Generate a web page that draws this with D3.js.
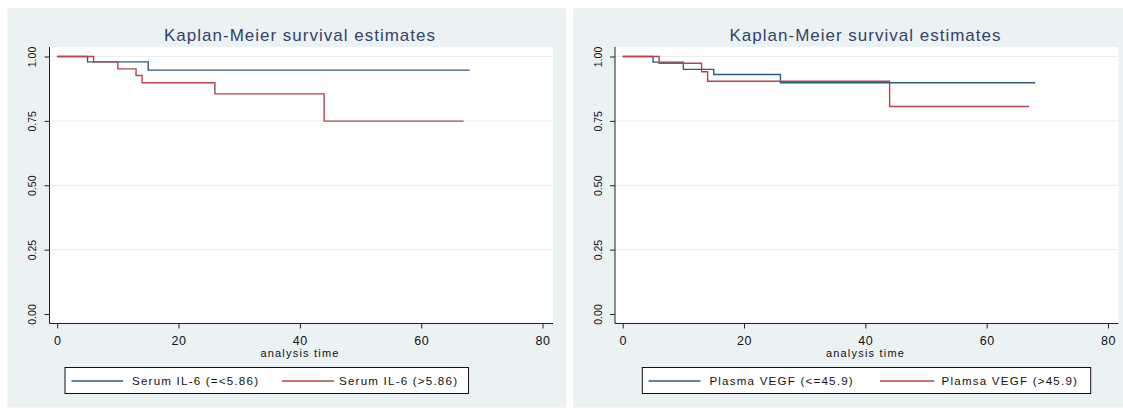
<!DOCTYPE html>
<html>
<head>
<meta charset="utf-8">
<script src="https://cdn.jsdelivr.net/npm/d3@7"></script>
<style>
  body { margin: 0; background: #fff; }
  svg { display: block; }
  text { font-family: "Liberation Sans", Arial, sans-serif; }
</style>
</head>
<body>
<div id="chart"></div>
<script>
// tick values shared by both panels
const xTicks = [0, 20, 40, 60, 80];
const yTicks = [0, 0.25, 0.5, 0.75, 1];
const titleText = "Kaplan-Meier survival estimates";
const xTitle = "analysis time";

// serum IL-6 panel (time, survival at each step)
const il6Labels = ["Serum IL-6 (=<5.86)", "Serum IL-6 (>5.86)"];
const il6LowTime = [0, 5, 15, 68];
const il6LowSurv = [1, 0.979, 0.947, 0.947];
const il6HighTime = [0, 6, 10, 13, 14, 26, 44, 67];
const il6HighSurv = [1, 0.979, 0.952, 0.926, 0.898, 0.855, 0.749, 0.749];

// plasma VEGF panel
const vegfLabels = ["Plasma VEGF (<=45.9)", "Plamsa VEGF (>45.9)"];
const vegfLowTime = [0, 5, 10, 15, 26, 68];
const vegfLowSurv = [1, 0.978, 0.950, 0.930, 0.898, 0.898];
const vegfHighTime = [0, 6, 13, 14, 44, 67];
const vegfHighSurv = [1, 0.974, 0.941, 0.904, 0.806, 0.806];

const colors = ["#2b5a86", "#b0474f"];

const svg = d3.select("#chart")
  .append("svg")
  .attr("width", 1123)
  .attr("height", 409);

function drawPanel(left, series, labels, leg) {
  const g = svg.append("g").attr("transform", `translate(${left},0)`);

  // graph region + plot region
  g.append("rect")
    .attr("x", 0).attr("y", 8)
    .attr("width", 558.5).attr("height", 399.5)
    .attr("fill", "#eaf2f3");
  g.append("rect")
    .attr("x", 42).attr("y", 47)
    .attr("width", 503.5).attr("height", 276.5)
    .attr("rx", 2)
    .attr("fill", "#fff");

  const x = d3.scaleLinear().domain([0, 80]).range([49.7, 535]);
  const y = d3.scaleLinear().domain([0, 1]).range([314, 56.5]);

  // grid lines
  g.append("g")
    .selectAll("line")
    .data(yTicks.filter(d => d > 0))
    .join("line")
    .attr("x1", 42).attr("x2", 545.5)
    .attr("y1", d => y(d)).attr("y2", d => y(d))
    .attr("stroke", "#e6eef0")
    .attr("stroke-width", 1);

  // y axis
  const yAxis = g.append("g")
    .attr("transform", "translate(42,0)")
    .call(d3.axisLeft(y).tickValues(yTicks).tickSize(5).tickFormat(d3.format(".2f")));
  yAxis.select(".domain").remove();
  yAxis.selectAll(".tick line").attr("stroke", "#222");
  yAxis.selectAll(".tick text")
    .attr("transform", "rotate(-90)")
    .attr("x", 0).attr("y", -13.5).attr("dy", 0)
    .attr("text-anchor", "middle")
    .attr("font-size", 10.5)
    .attr("fill", "#111");

  // x axis
  const xAxis = g.append("g")
    .attr("transform", "translate(0,323.5)")
    .call(d3.axisBottom(x).tickValues(xTicks).tickSize(5).tickFormat(d3.format("d")));
  xAxis.select(".domain").remove();
  xAxis.selectAll(".tick line").attr("stroke", "#222");
  xAxis.selectAll(".tick text")
    .attr("y", 12.5)
    .attr("font-size", 12.5)
    .attr("letter-spacing", 0.6)
    .attr("fill", "#111");

  // axis lines over the plot region edges
  g.append("line")
    .attr("x1", 42).attr("x2", 42).attr("y1", 47).attr("y2", 323.5)
    .attr("stroke", "#222");
  g.append("line")
    .attr("x1", 42).attr("x2", 545.5).attr("y1", 323.5).attr("y2", 323.5)
    .attr("stroke", "#222");

  // survival curves
  const line = d3.line()
    .x(d => x(d[0]))
    .y(d => y(d[1]))
    .curve(d3.curveStepAfter);

  g.append("g")
    .selectAll("path")
    .data(series)
    .join("path")
    .attr("d", d => line(d3.zip(d.time, d.surv)))
    .attr("fill", "none")
    .attr("stroke", (d, i) => colors[i])
    .attr("stroke-width", 1.4);

  // titles
  g.append("text")
    .attr("x", 292.5).attr("y", 40.7)
    .attr("text-anchor", "middle")
    .attr("font-size", 17)
    .attr("letter-spacing", 1)
    .attr("fill", "#33436a")
    .text(titleText);
  g.append("text")
    .attr("x", 292.5).attr("y", 357)
    .attr("text-anchor", "middle")
    .attr("font-size", 11)
    .attr("letter-spacing", 1.2)
    .attr("fill", "#111")
    .text(xTitle);

  // legend
  g.append("rect")
    .attr("x", leg.box[0]).attr("y", 367.5)
    .attr("width", leg.box[1] - leg.box[0]).attr("height", 26)
    .attr("fill", "#fff")
    .attr("stroke", "#111");
  labels.forEach((lab, i) => {
    g.append("line")
      .attr("x1", leg.keys[i][0]).attr("x2", leg.keys[i][1])
      .attr("y1", 381).attr("y2", 381)
      .attr("stroke", colors[i])
      .attr("stroke-width", 1.4);
    g.append("text")
      .attr("x", leg.text[i]).attr("y", 384.5)
      .attr("font-size", 11.6)
      .attr("letter-spacing", 1.2)
      .attr("fill", "#111")
      .text(lab);
  });
}

drawPanel(7.5,
  [{time: il6LowTime, surv: il6LowSurv}, {time: il6HighTime, surv: il6HighSurv}],
  il6Labels,
  {box: [57.5, 461], keys: [[64, 115.5], [274.5, 326.5]], text: [124.5, 331.5]});

drawPanel(573,
  [{time: vegfLowTime, surv: vegfLowSurv}, {time: vegfHighTime, surv: vegfHighSurv}],
  vegfLabels,
  {box: [69.3, 517.7], keys: [[75.7, 127.5], [307, 361.4]], text: [136.4, 368.6]});
</script>
</body>
</html>
